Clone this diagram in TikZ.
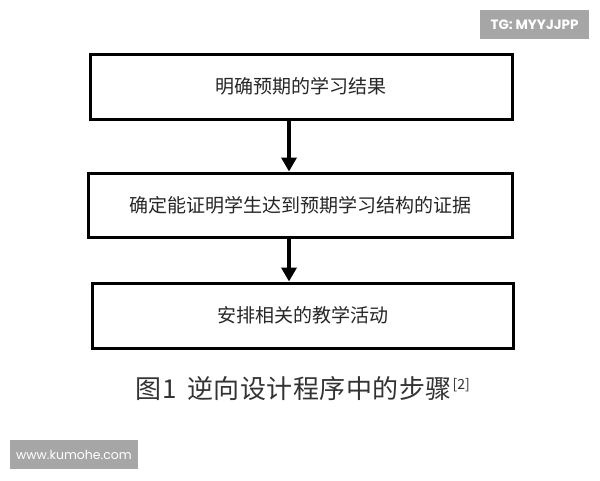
\documentclass[tikz,border=0pt]{standalone}
\usepackage{fontspec}
\usetikzlibrary{arrows.meta}
\newfontfamily\cjk{Noto Sans CJK SC}
\newfontfamily\wmfont{Poppins}
\newcommand\capsp{\hspace{0.5pt}}
\tikzset{
  stepbox/.style={draw=black, line width=3pt, fill=white, inner sep=0pt, font=\cjk\fontsize{19}{22}\selectfont, text=black!85},
  flow/.style={line width=4pt, -{Triangle[width=15pt,length=14pt]}},
  wm/.style={fill=black!35, text=white, inner sep=0pt}
}
\begin{document}
\begin{tikzpicture}[x=1pt,y=-1pt]
\useasboundingbox (0,0) rectangle (600,480);
\fill[white] (0,0) rectangle (600,480);
\node[stepbox, minimum width=422pt, minimum height=65pt] (b1) at (301,86.5) {明确预期的学习结果};
\node[stepbox, minimum width=424pt, minimum height=64pt] (b2) at (300,205) {确定能证明学生达到预期学习结构的证据};
\node[stepbox, minimum width=421pt, minimum height=65pt] (b3) at (302.5,315.5) {安排相关的教学活动};
\draw[flow] ([xshift=-12pt]b1.south) -- ([xshift=-11pt]b2.north);
\draw[flow] ([xshift=-11pt]b2.south) -- ([xshift=-13.5pt]b3.north);
\node[font=\cjk\fontsize{26}{30}\selectfont, text=black!80, inner sep=0pt, anchor=west] (cap) at (135.5,389) {图\hspace{1pt}1\hspace{10pt}逆\capsp 向\capsp 设\capsp 计\capsp 程\capsp 序\capsp 中\capsp 的\capsp 步\capsp 骤\raisebox{9pt}{\fontsize{14}{15}\selectfont\hspace{1pt}[2]}};
\node[wm, font=\wmfont\bfseries\fontsize{13.5}{15}\selectfont, minimum width=109pt, minimum height=29pt] (w1) at (534.5,24.5) {TG: MYYJJPP};
\node[wm, font=\wmfont\fontsize{12.5}{14}\selectfont, minimum width=128pt, minimum height=29pt] (w2) at (74,454.5) {www.kumohe.com};
\end{tikzpicture}
\end{document}
